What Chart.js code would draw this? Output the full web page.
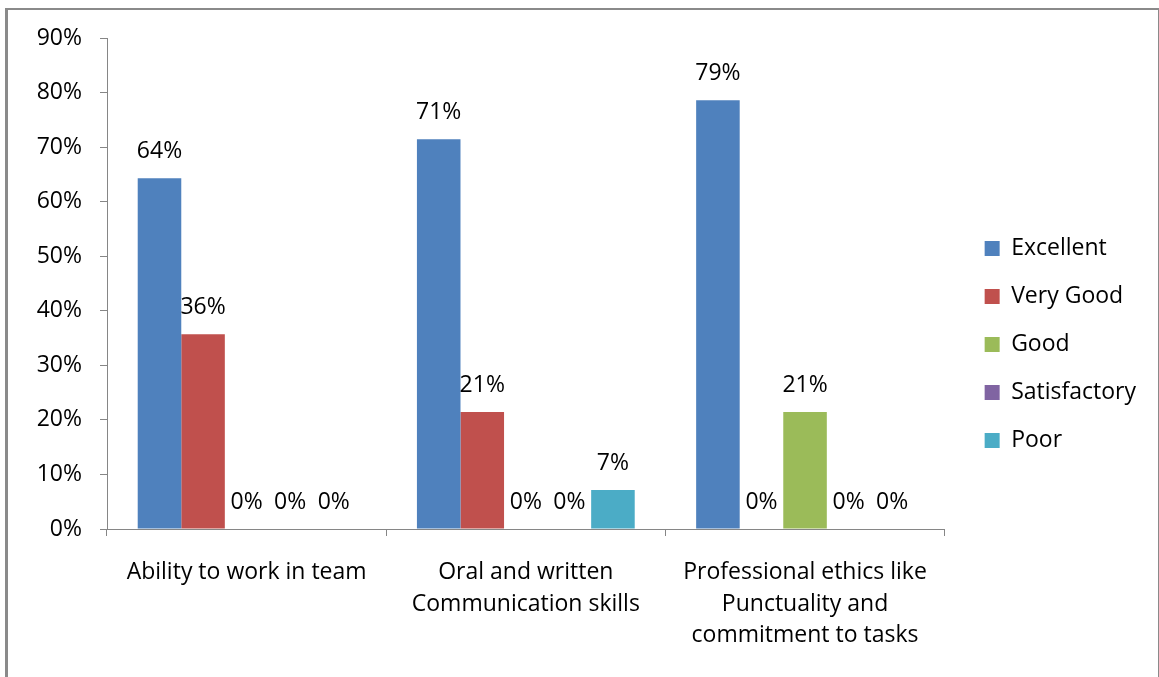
<!DOCTYPE html>
<html>
<head>
<meta charset="utf-8">
<script src="https://cdn.jsdelivr.net/npm/chart.js@4.4.1/dist/chart.umd.min.js"></script>
<style>
    html, body { margin: 0; padding: 0; background: #fff; }
    #marco {
        position: absolute; left: 5px; top: 8px;
        width: 1150px; height: 700px;
        border: 2px solid #8a8a8a; border-left-width: 3px;
    }
    #caja { position: absolute; left: 0; top: 0; width: 1159px; height: 677px; }
</style>
</head>
<body>
<div id="marco"></div>
<div id="caja"><canvas id="grafico"></canvas></div>
<script>
// datos del gráfico (porcentajes sobre 14 respuestas)
const categorias = [
    ['Ability to work in team'],
    ['Oral and written', 'Communication skills'],
    ['Professional ethics like', 'Punctuality and', 'commitment to tasks']
];
const excelente = [64.29, 71.43, 78.57];
const muyBueno = [35.71, 21.43, 0];
const bueno = [0, 0, 21.43];
const satisfactorio = [0, 0, 0];
const pobre = [0, 7.14, 0];
const ticksY = [0, 10, 20, 30, 40, 50, 60, 70, 80, 90];

const fuente = "'Open Sans', sans-serif";
const tamano = 23;
const grisEje = '#868686';

// etiquetas de valor encima de cada barra
const etiquetasBarras = {
    id: 'etiquetasBarras',
    afterDatasetsDraw(chart) {
        const ctx = chart.ctx;
        ctx.save();
        ctx.font = tamano + 'px ' + fuente;
        ctx.fillStyle = '#000';
        ctx.textAlign = 'center';
        ctx.textBaseline = 'middle';
        chart.data.datasets.forEach(function (ds, i) {
            const meta = chart.getDatasetMeta(i);
            meta.data.forEach(function (barra, j) {
                ctx.fillText(Math.round(ds.data[j]) + '%', barra.x, barra.y - 27);
            });
        });
        ctx.restore();
    }
};

new Chart(document.getElementById('grafico'), {
    type: 'bar',
    data: {
        labels: categorias,
        datasets: [
            { label: 'Excellent', data: excelente, backgroundColor: '#4F81BD' },
            { label: 'Very Good', data: muyBueno, backgroundColor: '#C0504D' },
            { label: 'Good', data: bueno, backgroundColor: '#9BBB59' },
            { label: 'Satisfactory', data: satisfactorio, backgroundColor: '#8064A2' },
            { label: 'Poor', data: pobre, backgroundColor: '#4BACC6' }
        ]
    },
    options: {
        responsive: true,
        maintainAspectRatio: false,
        animation: false,
        categoryPercentage: 0.78,
        barPercentage: 1,
        layout: { padding: { top: 12, left: 0, right: 13, bottom: 0 } },
        plugins: {
            legend: {
                position: 'right',
                labels: {
                    font: { family: fuente, size: tamano },
                    color: '#000',
                    boxWidth: 15,
                    boxHeight: 15,
                    padding: 25
                }
            },
            tooltip: { enabled: false }
        },
        scales: {
            x: {
                grid: { display: true, drawOnChartArea: false, offset: true, color: grisEje, tickLength: 7 },
                border: { color: grisEje, width: 1 },
                ticks: { font: { family: fuente, size: tamano, lineHeight: 1.37 }, color: '#000', padding: 21, maxRotation: 0 },
                afterFit(scale) { scale.height = 148; }
            },
            y: {
                min: 0,
                max: 90,
                afterBuildTicks(scale) { scale.ticks = ticksY.map(v => ({ value: v })); },
                grid: { display: true, drawOnChartArea: false, color: grisEje, tickLength: 7 },
                border: { color: grisEje, width: 1 },
                ticks: {
                    font: { family: fuente, size: tamano },
                    color: '#000',
                    padding: 18,
                    callback: v => v + '%'
                },
                afterFit(scale) { scale.width = 107; }
            },
            relleno: {
                position: 'right',
                display: true,
                grid: { display: false },
                border: { display: false },
                ticks: { display: false },
                afterFit(scale) { scale.width = 15; }
            },
            rellenoArriba: {
                position: 'top',
                display: true,
                grid: { display: false },
                border: { display: false },
                ticks: { display: false },
                afterFit(scale) { scale.height = 26; }
            }
        }
    },
    plugins: [etiquetasBarras]
});
</script>
</body>
</html>
